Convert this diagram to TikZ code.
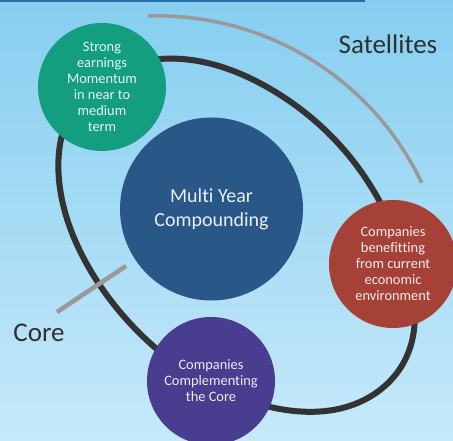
\documentclass[tikz,border=0pt]{standalone}
\usepackage{fontspec}
\setmainfont{Carlito}[Ligatures=NoCommon]
\usepackage{tikz}
\usetikzlibrary{arrows,positioning,calc,hobby}
\definecolor{FondHaut}{RGB}{134,206,240}
\definecolor{FondBas}{RGB}{198,233,250}
\definecolor{Bande}{RGB}{40,108,172}
\definecolor{Vert}{RGB}{19,158,128}
\definecolor{Bleu}{RGB}{40,87,136}
\definecolor{Rouge}{RGB}{166,65,55}
\definecolor{Violet}{RGB}{72,61,143}
\definecolor{Boucle}{RGB}{51,51,51}
\definecolor{Trait}{RGB}{153,153,153}
\definecolor{Titre}{RGB}{48,48,48}

\begin{document}
\begin{tikzpicture}[x=1bp,y=-1bp]
\tikzstyle{cercle}=[circle,minimum size=128bp,inner sep=0pt,align=center,text=white,text opacity=0.9,font=\fontsize{14.4bp}{16bp}\selectfont]
\tikzstyle{boucle}=[line width=6bp,color=Boucle]
\tikzstyle{trait}=[line width=4bp,color=Trait]
\tikzstyle{titre}=[text=Titre,inner sep=0pt,font=\fontsize{27bp}{32bp}\selectfont]
\def\LargeurFond{453}
\def\HauteurFond{441}
\def\RayonArc{293}
% fond
\shade[top color=FondHaut,bottom color=FondBas] (0,0) rectangle (\LargeurFond,\HauteurFond);
\useasboundingbox (0,0) rectangle (\LargeurFond,\HauteurFond);
\fill[Bande] (0,0) rectangle (365,2);
% arc des satellites et trait du coeur
\coordinate (Sa) at (148,16);
\draw[trait,line width=3.5bp] (Sa) arc[start angle=-91.8,end angle=-25.5,radius=\RayonArc];
\draw[boucle,use Hobby shortcut,closed=true] (160,59) .. (267,87) .. (357,166) .. (404,258) .. (406,358) .. (355,404) .. (270,407) .. (210,385) .. (127,320) .. (83,257) .. (59,180) .. (75,105);
\coordinate (Na) at (57,312);
\coordinate (Nb) at (126,266);
\draw[trait,line width=4.5bp] (Na)--(Nb);
% cercles
\node[cercle,fill=Vert] (Ca) at (102,87) {Strong\\earnings\\Momentum\\in near to\\medium\\term};
\node[cercle,fill=Bleu,minimum size=183bp,font=\fontsize{20bp}{24bp}\selectfont] (C) at (211.5,209) {Multi Year\\Compounding};
\node[cercle,fill=Rouge] (Cb) at (393,264) {Companies\\benefitting\\from current\\economic\\environment};
\node[cercle,fill=Violet] (Cc) at (211,381) {Companies\\Complementing\\the Core};
\node[titre] (S) at (388,44) {Satellites};
\node[titre] (K) at (39,333) {Core};
\end{tikzpicture}
\end{document}
